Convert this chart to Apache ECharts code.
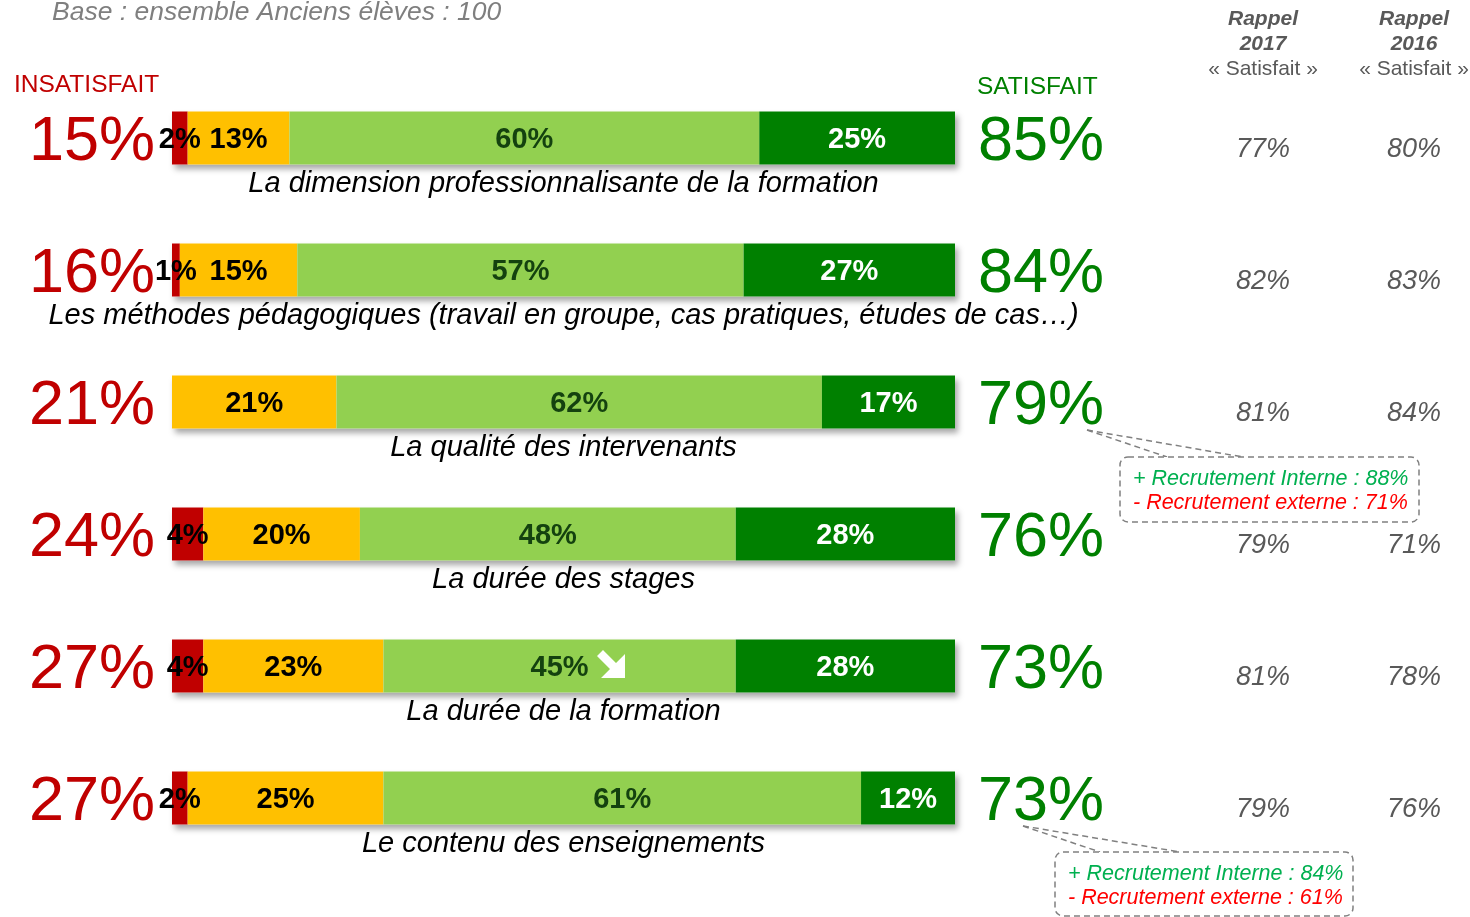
<!DOCTYPE html>
<html>
<head>
<meta charset="utf-8">
<script src="https://cdn.jsdelivr.net/npm/echarts@6/dist/echarts.min.js"></script>
<style>
html,body{margin:0;padding:0;background:#fff;}
#c{width:1470px;height:917px;}
</style>
</head>
<body>
<div id="c"></div>
<script>
const categories = [
  "La dimension professionnalisante de la formation",
  "Les méthodes pédagogiques (travail en groupe, cas pratiques, études de cas…)",
  "La qualité des intervenants",
  "La durée des stages",
  "La durée de la formation",
  "Le contenu des enseignements"
];
const tresInsatisfait = [2, 1, 0, 4, 4, 2];
const plutotInsatisfait = [13, 15, 21, 20, 23, 25];
const plutotSatisfait = [60, 57, 62, 48, 45, 61];
const tresSatisfait = [25, 27, 17, 28, 28, 12];
const totalInsatisfait = ["15%", "16%", "21%", "24%", "27%", "27%"];
const totalSatisfait = ["85%", "84%", "79%", "76%", "73%", "73%"];
const rappel2017 = ["77%", "82%", "81%", "79%", "81%", "79%"];
const rappel2016 = ["80%", "83%", "84%", "71%", "78%", "76%"];
const fullBar = [100, 100, 100, 100, 100, 100];

const FONT = "'Liberation Sans', Arial, sans-serif";
const chart = echarts.init(document.getElementById('c'));

function segLabel(color) {
  return {
    show: true, position: 'inside', color: color, fontFamily: FONT,
    fontWeight: 'bold', fontSize: 29, offset: [0, 2],
    formatter: p => (p.value ? p.value + '%' : '')
  };
}
function catAxis(pos, labels, extra) {
  return {
    type: 'category', data: categories, inverse: true, position: pos,
    axisLine: {show: false}, axisTick: {show: false}, splitLine: {show: false},
    axisLabel: Object.assign({
      formatter: (v, i) => labels[i], fontFamily: FONT
    }, extra)
  };
}
const barW = 53;
const common = {type: 'bar', stack: 'tot', barWidth: barW, barGap: '-100%', z: 3, yAxisIndex: 0};

chart.setOption({
  animation: false,
  grid: {left: 172, right: 515, top: 72, height: 792, containLabel: false, outerBoundsMode: 'none'},
  xAxis: {type: 'value', min: 0, max: 100, show: false},
  yAxis: [
    catAxis('left', totalInsatisfait, {color: '#C00000', fontSize: 63, margin: 17, verticalAlign: 'top', lineHeight: 10}),
    catAxis('right', totalSatisfait, {color: '#008000', fontSize: 63, margin: 23, verticalAlign: 'top', lineHeight: 10}),
    catAxis('right', rappel2017, {color: '#595959', fontSize: 27, fontStyle: 'italic', margin: 308, align: 'center', verticalAlign: 'top', lineHeight: 22}),
    catAxis('right', rappel2016, {color: '#595959', fontSize: 27, fontStyle: 'italic', margin: 459, align: 'center', verticalAlign: 'top', lineHeight: 22})
  ],
  series: [
    {
      type: 'bar', name: 'fond', data: fullBar, barWidth: barW, barGap: '-100%', z: 1, yAxisIndex: 0,
      itemStyle: {color: '#ffffff', shadowBlur: 6, shadowOffsetX: 3, shadowOffsetY: 4, shadowColor: 'rgba(0,0,0,0.35)'},
      label: {
        show: true, position: 'bottom', distance: 5, color: '#000', fontFamily: FONT,
        fontStyle: 'italic', fontSize: 29, formatter: p => categories[p.dataIndex]
      },
      silent: true
    },
    Object.assign({}, common, {name: 'Très insatisfait', data: tresInsatisfait, itemStyle: {color: '#C00000'}, label: segLabel('#000000')}),
    Object.assign({}, common, {name: 'Plutôt insatisfait', data: plutotInsatisfait, itemStyle: {color: '#FFC000'}, label: segLabel('#000000')}),
    Object.assign({}, common, {name: 'Plutôt satisfait', data: plutotSatisfait, itemStyle: {color: '#92D050'}, label: segLabel('#14420F')}),
    Object.assign({}, common, {name: 'Très satisfait', data: tresSatisfait, itemStyle: {color: '#008000'}, label: segLabel('#FFFFFF')})
  ],
  graphic: [
    {type: 'text', x: 52, y: 13, style: {text: 'Base : ensemble Anciens élèves : 100', font: 'italic 26.5px ' + FONT, fill: '#7F7F7F', verticalAlign: 'middle'}},
    {type: 'text', x: 14, y: 85, style: {text: 'INSATISFAIT', font: '24.5px ' + FONT, fill: '#C00000', verticalAlign: 'middle'}},
    {type: 'text', x: 977, y: 87, style: {text: 'SATISFAIT', font: '24.5px ' + FONT, fill: '#008000', verticalAlign: 'middle'}},
    {type: 'text', x: 1263, y: 19, style: {text: 'Rappel', font: 'italic bold 21px ' + FONT, fill: '#595959', align: 'center', verticalAlign: 'middle'}},
    {type: 'text', x: 1263, y: 44, style: {text: '2017', font: 'italic bold 21px ' + FONT, fill: '#595959', align: 'center', verticalAlign: 'middle'}},
    {type: 'text', x: 1263, y: 69, style: {text: '« Satisfait »', font: '21px ' + FONT, fill: '#595959', align: 'center', verticalAlign: 'middle'}},
    {type: 'text', x: 1414, y: 19, style: {text: 'Rappel', font: 'italic bold 21px ' + FONT, fill: '#595959', align: 'center', verticalAlign: 'middle'}},
    {type: 'text', x: 1414, y: 44, style: {text: '2016', font: 'italic bold 21px ' + FONT, fill: '#595959', align: 'center', verticalAlign: 'middle'}},
    {type: 'text', x: 1414, y: 69, style: {text: '« Satisfait »', font: '21px ' + FONT, fill: '#595959', align: 'center', verticalAlign: 'middle'}},
    // callout 1
    {type: 'line', shape: {x1: 1087, y1: 430, x2: 1167, y2: 457}, style: {stroke: '#808080', lineWidth: 1.5, lineDash: [6, 4]}},
    {type: 'line', shape: {x1: 1087, y1: 430, x2: 1243, y2: 457}, style: {stroke: '#808080', lineWidth: 1.5, lineDash: [6, 4]}},
    {type: 'rect', shape: {x: 1120, y: 457, width: 299, height: 65, r: 8}, style: {fill: '#fff', stroke: '#808080', lineWidth: 1.5, lineDash: [6, 4]}},
    {type: 'text', x: 1133, y: 479, style: {text: '+ Recrutement Interne : 88%', font: 'italic 21.5px ' + FONT, fill: '#00B050', verticalAlign: 'middle'}},
    {type: 'text', x: 1133, y: 503, style: {text: '- Recrutement externe : 71%', font: 'italic 21.5px ' + FONT, fill: '#FF0000', verticalAlign: 'middle'}},
    // callout 2
    {type: 'line', shape: {x1: 1023, y1: 826, x2: 1100, y2: 852}, style: {stroke: '#808080', lineWidth: 1.5, lineDash: [6, 4]}},
    {type: 'line', shape: {x1: 1023, y1: 826, x2: 1180, y2: 852}, style: {stroke: '#808080', lineWidth: 1.5, lineDash: [6, 4]}},
    {type: 'rect', shape: {x: 1055, y: 852, width: 298, height: 64, r: 8}, style: {fill: '#fff', stroke: '#808080', lineWidth: 1.5, lineDash: [6, 4]}},
    {type: 'text', x: 1068, y: 874, style: {text: '+ Recrutement Interne : 84%', font: 'italic 21.5px ' + FONT, fill: '#00B050', verticalAlign: 'middle'}},
    {type: 'text', x: 1068, y: 898, style: {text: '- Recrutement externe : 61%', font: 'italic 21.5px ' + FONT, fill: '#FF0000', verticalAlign: 'middle'}},
    // arrow
    {type: 'polygon', z: 10, shape: {points: [[603, 650], [616, 663], [625, 654], [625, 678], [601, 678], [610, 669], [597, 656]]}, style: {fill: '#ffffff'}}
  ]
});
</script>
</body>
</html>
